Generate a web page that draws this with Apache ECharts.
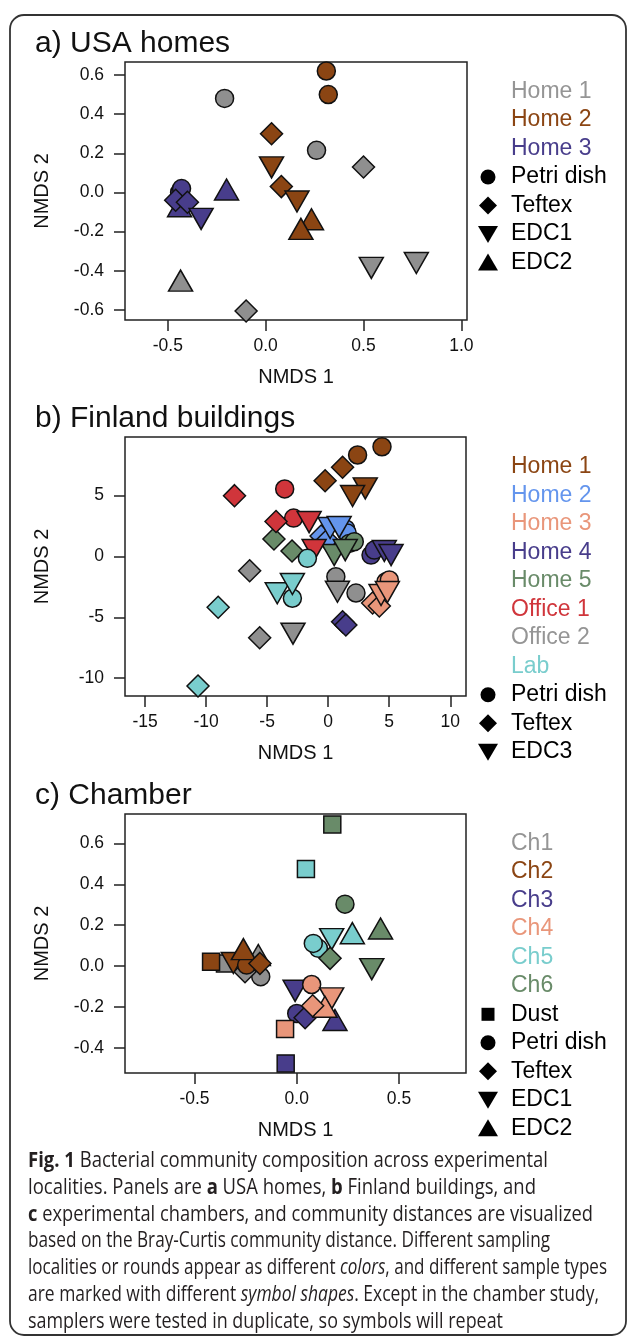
<!DOCTYPE html>
<html><head><meta charset="utf-8">
<script src="https://cdn.jsdelivr.net/npm/echarts@6/dist/echarts.min.js"></script>
<style>html,body{margin:0;padding:0;background:#fff;} #c{width:629px;height:1341px;}</style>
</head><body><div id="c"></div>
<script>
// Sample types: P = Petri dish, T = Teftex, E1 = EDC1/EDC3 (down triangle), E2 = EDC2 (up triangle), D = Dust
// ---- Panel a: USA homes (NMDS1, NMDS2, type)
const usaHome1 = [[-0.21,0.48,'P'],[0.26,0.215,'P'],[0.50,0.13,'T'],[-0.10,-0.605,'T'],[0.54,-0.385,'E1'],[0.77,-0.36,'E1'],[-0.435,-0.45,'E2']];
const usaHome2 = [[0.31,0.62,'P'],[0.32,0.50,'P'],[0.03,0.30,'T'],[0.08,0.03,'T'],[0.03,0.128,'E1'],[0.16,-0.046,'E1'],[0.234,-0.137,'E2'],[0.18,-0.186,'E2']];
const usaHome3 = [[-0.44,0.0,'P'],[-0.43,0.02,'P'],[-0.20,0.015,'E2'],[-0.44,-0.07,'E2'],[-0.46,-0.04,'T'],[-0.40,-0.05,'T'],[-0.33,-0.135,'E1']];
// ---- Panel b: Finland buildings
const finHome1 = [[4.41,9.02,'P'],[2.41,8.34,'P'],[1.18,7.33,'T'],[-0.25,6.23,'T'],[3.04,5.60,'E1'],[2.0,4.97,'E1']];
const finHome2 = [[1.44,2.26,'P'],[1.56,1.93,'P'],[-0.58,1.68,'T'],[-0.08,1.36,'T'],[0.16,2.34,'E1'],[0.9,2.42,'E1']];
const finHome3 = [[4.74,-2.07,'P'],[5.01,-1.93,'P'],[3.64,-3.82,'T'],[4.19,-4.07,'T'],[4.33,-3.16,'E1'],[4.85,-2.92,'E1']];
const finHome4 = [[3.51,0.12,'P'],[3.78,0.53,'P'],[1.18,-5.36,'T'],[1.45,-5.63,'T'],[4.6,0.45,'E1'],[5.15,0.12,'E1']];
const finHome5 = [[1.73,1.08,'P'],[2.14,1.22,'P'],[-4.44,1.44,'T'],[-2.96,0.45,'T'],[0.49,0.12,'E1'],[1.4,0.53,'E1']];
const finOffice1 = [[-3.56,5.55,'P'],[-2.83,3.16,'P'],[-7.67,5.0,'T'],[-4.27,2.88,'T'],[-1.56,2.83,'E1'],[-1.15,0.53,'E1']];
const finOffice2 = [[0.63,-1.66,'P'],[2.28,-3.0,'P'],[-6.43,-1.17,'T'],[-5.61,-6.67,'T'],[0.76,-2.89,'E1'],[-2.88,-6.34,'E1']];
const finLab = [[-1.70,-0.15,'P'],[-2.93,-3.43,'P'],[-9.01,-4.17,'T'],[-10.66,-10.64,'T'],[-4.17,-3.02,'E1'],[-2.93,-2.26,'E1']];
// ---- Panel c: Chamber
const chCh1 = [[-0.351,0.013,'D'],[-0.188,0.054,'E2'],[-0.176,-0.052,'P'],[-0.253,-0.028,'T']];
const chCh2 = [[-0.419,0.021,'D'],[-0.31,0.015,'E1'],[-0.245,0.005,'P'],[-0.261,0.083,'E2'],[-0.18,0.013,'T']];
const chCh3 = [[-0.054,-0.476,'D'],[-0.008,-0.121,'E1'],[0.0,-0.232,'P'],[0.041,-0.253,'T'],[0.187,-0.264,'E2']];
const chCh4 = [[-0.057,-0.308,'D'],[0.073,-0.09,'P'],[0.171,-0.158,'E1'],[0.138,-0.199,'E2'],[0.078,-0.194,'T']];
const chCh5 = [[0.045,0.475,'D'],[0.106,0.087,'P'],[0.081,0.111,'P'],[0.171,0.132,'E1'],[0.272,0.161,'E2']];
const chCh6 = [[0.174,0.693,'D'],[0.236,0.303,'P'],[0.163,0.038,'T'],[0.367,-0.015,'E1'],[0.41,0.184,'E2']];
// ---- tick values
const aXTicks = [-0.5, 0.0, 0.5, 1.0];
const aYTicks = [-0.6, -0.4, -0.2, 0.0, 0.2, 0.4, 0.6];
const bXTicks = [-15, -10, -5, 0, 5, 10];
const bYTicks = [-10, -5, 0, 5];
const cXTicks = [-0.5, 0.0, 0.5];
const cYTicks = [-0.4, -0.2, 0.0, 0.2, 0.4, 0.6];
// ---- legend labels
const aGroups = ['Home 1', 'Home 2', 'Home 3'];
const aTypes = [['Petri dish','P'], ['Teftex','T'], ['EDC1','E1'], ['EDC2','E2']];
const bGroups = ['Home 1', 'Home 2', 'Home 3', 'Home 4', 'Home 5', 'Office 1', 'Office 2', 'Lab'];
const bTypes = [['Petri dish','P'], ['Teftex','T'], ['EDC3','E1']];
const cGroups = ['Ch1', 'Ch2', 'Ch3', 'Ch4', 'Ch5', 'Ch6'];
const cTypes = [['Dust','D'], ['Petri dish','P'], ['Teftex','T'], ['EDC1','E1'], ['EDC2','E2']];

const GRAY='#8F8F8F', BROWN='#8B4513', PURPLE='#483D8B', BLUE='#6495ED', SALMON='#E9967A', GREEN='#698B69', RED='#D0353B', CYAN='#79CDCD';
const aColors=[GRAY,BROWN,PURPLE];
const bColors=[BROWN,BLUE,SALMON,PURPLE,GREEN,RED,GRAY,CYAN];
const cColors=[GRAY,BROWN,PURPLE,SALMON,CYAN,GREEN];

const FONT='Liberation Sans';
const symMap = {
  P: {symbol:'circle', size:18, rot:0},
  T: {symbol:'diamond', size:[22,22], rot:0},
  E1:{symbol:'triangle', size:[24,21], rot:180},
  E2:{symbol:'triangle', size:[24,21], rot:0},
  D: {symbol:'rect', size:17, rot:0}
};
function mkSeries(arr, color, gi, name){
  return {type:'scatter', name:name, xAxisIndex:gi, yAxisIndex:gi, clip:false,
    data: arr.map(p=>({value:[p[0],p[1]], symbol:symMap[p[2]].symbol, symbolSize:symMap[p[2]].size, symbolRotate:symMap[p[2]].rot})),
    itemStyle:{color:color, borderColor:'#111', borderWidth:1.5, opacity:1},
    emphasis:{disabled:true}, animation:false};
}
const grids=[{left:125,top:62,width:342,height:258},{left:125,top:437,width:341,height:259},{left:125,top:814,width:341,height:259}];
const ranges=[{x:[-0.719,1.029],y:[-0.651,0.666]},{x:[-16.64,11.29],y:[-11.46,9.82]},{x:[-0.840,0.828],y:[-0.523,0.744]}];
const xt=[aXTicks,bXTicks,cXTicks], yt=[aYTicks,bYTicks,cYTicks];
const fmt=[v=>v.toFixed(1), v=>String(v), v=>v.toFixed(1)];
function xAx(i){return {gridIndex:i,type:'value',min:ranges[i].x[0],max:ranges[i].x[1],position:'bottom',
  axisLine:{show:false,onZero:false},splitLine:{show:false},
  axisTick:{show:true,length:11,lineStyle:{color:'#222',width:1.5},customValues:xt[i]},
  axisLabel:{customValues:xt[i],formatter:fmt[i],margin:17,fontSize:17.5,color:'#111',fontFamily:FONT},
  name:'NMDS 1',nameLocation:'middle',nameGap:47,nameTextStyle:{fontSize:20,color:'#111',fontFamily:FONT}};}
function yAx(i){return {gridIndex:i,type:'value',min:ranges[i].y[0],max:ranges[i].y[1],position:'left',
  axisLine:{show:false,onZero:false},splitLine:{show:false},
  axisTick:{show:true,length:11,lineStyle:{color:'#222',width:1.5},customValues:yt[i]},
  axisLabel:{customValues:yt[i],formatter:fmt[i],margin:21,fontSize:17.5,color:'#111',fontFamily:FONT},
  name:'NMDS 2',nameLocation:'middle',nameGap:73,nameTextStyle:{fontSize:20,color:'#111',fontFamily:FONT}};}

const series=[];
[usaHome1,usaHome2,usaHome3].forEach((a,k)=>series.push(mkSeries(a,aColors[k],0,aGroups[k])));
[finHome1,finHome2,finHome3,finHome4,finHome5,finOffice1,finOffice2,finLab].forEach((a,k)=>series.push(mkSeries(a,bColors[k],1,bGroups[k])));
[chCh1,chCh2,chCh3,chCh4,chCh5,chCh6].forEach((a,k)=>series.push(mkSeries(a,cColors[k],2,cGroups[k])));

// ---- graphics: titles, legends, caption, frame
const g=[];
g.push({type:'rect',shape:{x:10,y:15,width:616,height:1320,r:14},style:{fill:'none',stroke:'#333',lineWidth:1.8},silent:true});
[['a) USA homes',44],['b) Finland buildings',418.5],['c) Chamber',795.5]].forEach(t=>{
  g.push({type:'text',x:35,y:t[1],style:{text:t[0],fontSize:30,fontFamily:FONT,fill:'#111',verticalAlign:'middle'}});
});
function legSym(code,cx,cy){
  const st={fill:'#000'};
  if(code==='P') return {type:'circle',shape:{cx:cx,cy:cy,r:7.5},style:st};
  if(code==='T') return {type:'polygon',shape:{points:[[cx,cy-9],[cx+9,cy],[cx,cy+9],[cx-9,cy]]},style:st};
  if(code==='E1') return {type:'polygon',shape:{points:[[cx-10,cy-8],[cx+10,cy-8],[cx,cy+9]]},style:st};
  if(code==='E2') return {type:'polygon',shape:{points:[[cx-10,cy+8],[cx+10,cy+8],[cx,cy-9]]},style:st};
  return {type:'rect',shape:{x:cx-6.5,y:cy-6.5,width:13,height:13},style:st};
}
function legend(groups,colors,types,y0){
  let y=y0;
  groups.forEach((name,k)=>{g.push({type:'text',x:511,y:y,style:{text:name,fontSize:23,fontFamily:FONT,fill:colors[k],verticalAlign:'middle'}}); y+=28.5;});
  types.forEach(t=>{g.push(legSym(t[1],488,y)); g.push({type:'text',x:511,y:y,style:{text:t[0],fontSize:23,fontFamily:FONT,fill:'#000',verticalAlign:'middle'}}); y+=28.5;});
}
legend(aGroups,aColors.map((c,i)=>i===0?'#959595':c),aTypes,91.5);
legend(bGroups,bColors.map((c,i)=>i===6?'#959595':c),bTypes,466.7);
legend(cGroups,cColors.map((c,i)=>i===0?'#959595':c),cTypes,843.3);

const capLines=[
  '{b|Fig. 1} Bacterial community composition across experimental',
  'localities. Panels are {b|a} USA homes, {b|b} Finland buildings, and',
  '{b|c} experimental chambers, and community distances are visualized',
  'based on the Bray-Curtis community distance. Different sampling',
  'localities or rounds appear as different {i|colors}, and different sample types',
  'are marked with different {i|symbol shapes}. Except in the chamber study,',
  'samplers were tested in duplicate, so symbols will repeat'
];
const capEnds=[548, 536, 593, 550, 607, 599, 503];
const CAPF='Open Sans', CAPS=21, CAPX=28, CAPY=1161, CAPDY=26.8;
const ctx=document.createElement('canvas').getContext('2d');
function measureRich(t){
  let w=0; const re=/\{(b|i)\|([^}]*)\}|([^{]+)/g; let m;
  while((m=re.exec(t))){
    const style=m[1]==='b'?'bold ':(m[1]==='i'?'italic ':'');
    ctx.font=style+CAPS+'px "'+CAPF+'"';
    w+=ctx.measureText(m[1]?m[2]:m[3]).width;
  }
  return w;
}
capLines.forEach((t,i)=>{
  const s=(capEnds[i]-CAPX)/measureRich(t);
  g.push({type:'text',x:CAPX,y:CAPY+i*CAPDY,scaleX:s,scaleY:1,style:{text:t,fontSize:CAPS,fontFamily:CAPF,fill:'#231f20',verticalAlign:'middle',
    rich:{b:{fontWeight:'bold',fontSize:CAPS,fontFamily:CAPF,fill:'#231f20'},i:{fontStyle:'italic',fontSize:CAPS,fontFamily:CAPF,fill:'#231f20'}}}});
});

const chart=echarts.init(document.getElementById('c'),null,{renderer:'canvas'});
chart.setOption({
  animation:false,
  backgroundColor:'#fff',
  grid:grids.map(gr=>Object.assign({show:true,borderColor:'#222',borderWidth:1.5,backgroundColor:'transparent'},gr)),
  xAxis:[0,1,2].map(xAx),
  yAxis:[0,1,2].map(yAx),
  series:series,
  graphic:g
});
</script></body></html>
